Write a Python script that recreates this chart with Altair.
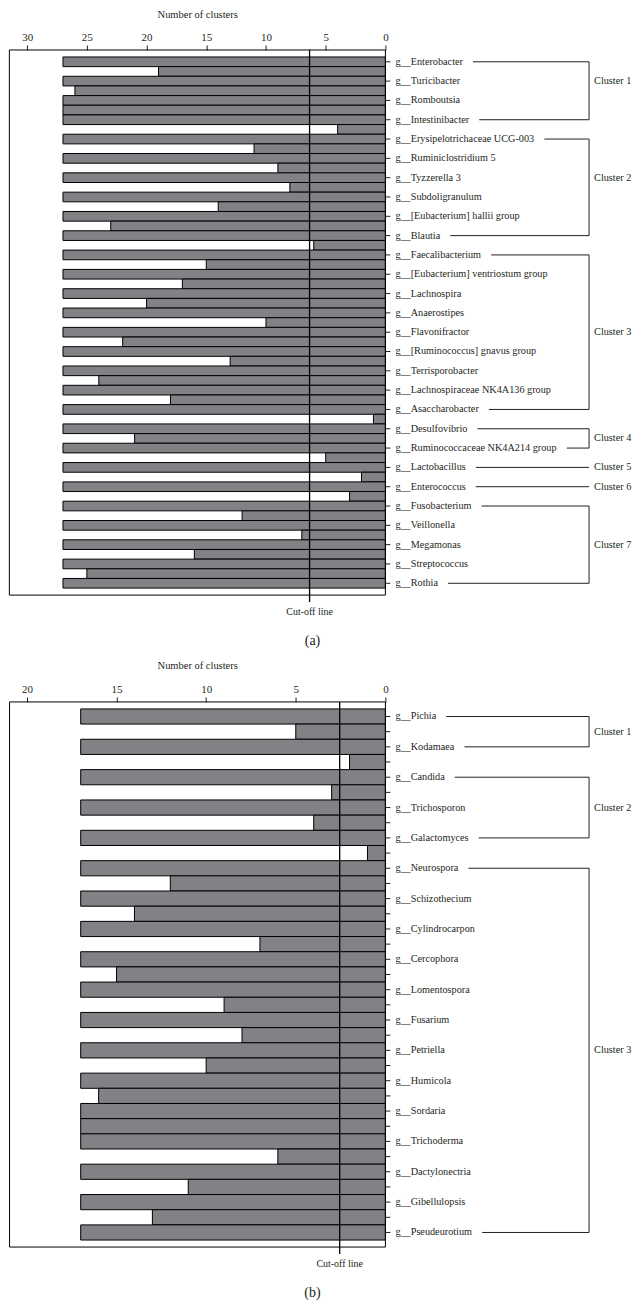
import altair as alt
import pandas as pd

FONT = "Liberation Serif"
INK = "#231f20"
GRAY = "#808285"

# ---------------- data: panel (a) bacteria ----------------
genera_a = [
    "g__Enterobacter", "g__Turicibacter", "g__Romboutsia", "g__Intestinibacter",
    "g__Erysipelotrichaceae UCG-003", "g__Ruminiclostridium 5", "g__Tyzzerella 3",
    "g__Subdoligranulum", "g__[Eubacterium] hallii group", "g__Blautia",
    "g__Faecalibacterium", "g__[Eubacterium] ventriostum group", "g__Lachnospira",
    "g__Anaerostipes", "g__Flavonifractor", "g__[Ruminococcus] gnavus group",
    "g__Terrisporobacter", "g__Lachnospiraceae NK4A136 group", "g__Asaccharobacter",
    "g__Desulfovibrio", "g__Ruminococcaceae NK4A214 group", "g__Lactobacillus",
    "g__Enterococcus", "g__Fusobacterium", "g__Veillonella", "g__Megamonas",
    "g__Streptococcus", "g__Rothia",
]
# number of clusters at which neighbouring genera are joined (separator rows)
merge_a = [19, 26, 27, 4, 11, 9, 8, 14, 23, 6, 15, 17, 20, 10, 22, 13, 24, 18,
           1, 21, 5, 2, 3, 12, 7, 16, 25]
full_a = 27
cut_a = 6.35
ticks_a = [0, 5, 10, 15, 20, 25, 30]
xmax_a = 31.52

# ---------------- data: panel (b) fungi ----------------
genera_b = [
    "g__Pichia", "g__Kodamaea", "g__Candida", "g__Trichosporon", "g__Galactomyces",
    "g__Neurospora", "g__Schizothecium", "g__Cylindrocarpon", "g__Cercophora",
    "g__Lomentospora", "g__Fusarium", "g__Petriella", "g__Humicola", "g__Sordaria",
    "g__Trichoderma", "g__Dactylonectria", "g__Gibellulopsis", "g__Pseudeurotium",
]
merge_b = [5, 2, 3, 4, 1, 12, 14, 7, 15, 9, 8, 10, 16, 17, 6, 11, 13]
full_b = 17
cut_b = 2.55
ticks_b = [0, 5, 10, 15, 20]
xmax_b = 21.0

# ---------------- layout (pixels) ----------------
PLOT_W = 624
ZERO_PX = 377
FRAME_H = 546
PAD = 7
TOTAL_H = 598
LABEL_DX = 10
TICK_LEN = 5
BRACKET_PX = 204
CLABEL_PX = 209
LINE_GAP = 10
FS = 10.25

# approximate Times glyph widths (1/1000 em) used to start bracket lines after labels
CW = dict(zip("abcdefghijklmnopqrstuvwxyz",
              [444, 500, 444, 500, 444, 333, 500, 500, 278, 278, 500, 278, 778,
               500, 500, 500, 500, 333, 389, 278, 500, 500, 722, 500, 500, 444]))
CW.update(dict(zip("ABCDEFGHIJKLMNOPQRSTUVWXYZ",
                   [722, 667, 667, 722, 611, 556, 722, 722, 333, 389, 722, 611, 889,
                    722, 722, 556, 722, 667, 556, 611, 722, 722, 944, 722, 722, 611])))
CW.update({" ": 250, "_": 500, "[": 333, "]": 333, "-": 333})


def text_w(s):
    return sum(CW.get(c, 500) for c in s) * FS / 1000.0


def panel(genera, merges, full, cut, ticks, xmax, tick_all_rows, tag):
    n_rows = 2 * len(genera) - 1
    ppu = ZERO_PX / xmax
    xmin = -(PLOT_W - ZERO_PX) / ppu
    row_px = (FRAME_H - 2 * PAD) / n_rows
    y_top = -PAD / row_px
    y_fbot = n_rows + PAD / row_px
    y_bot = y_top + TOTAL_H / row_px

    def px(p):
        return -p / ppu

    xs = alt.Scale(domain=[xmin, xmax], reverse=True, nice=False, zero=False)
    ys = alt.Scale(domain=[y_top, y_bot], reverse=True, nice=False, zero=False)

    axis = alt.Axis(orient="top", values=ticks, tickSize=5, tickColor=INK, tickWidth=1,
                    labelFont=FONT, labelFontSize=11, labelColor=INK, labelPadding=2,
                    labelOverlap=False, labelFlush=False, domain=False, grid=False,
                    title="Number of clusters", titleFont=FONT, titleFontSize=10.5,
                    titleFontWeight="normal", titleColor=INK, titleX=ZERO_PX / 2,
                    titleY=-36, titleAlign="center", titleBaseline="middle")

    def X(f):
        return alt.X(f, type="quantitative", scale=xs, axis=axis)

    def Y(f):
        return alt.Y(f, type="quantitative", scale=ys, axis=None)

    # bars
    rows = []
    for i, g in enumerate(genera):
        rows.append({"row": 2 * i, "val": full})
        if i < len(merges):
            rows.append({"row": 2 * i + 1, "val": merges[i]})
    bars_df = pd.DataFrame(rows)
    bars_df["row_end"] = bars_df["row"] + 1
    bars_df["zero"] = 0.0

    bars = alt.Chart(bars_df).mark_rect(fill=GRAY, stroke="black", strokeWidth=1).encode(
        x=X("val"), x2="zero", y=Y("row"), y2="row_end")

    frame_df = pd.DataFrame([{"x": xmax - 0.03, "x2": 0.0, "y": y_top, "y2": y_fbot}])
    frame = alt.Chart(frame_df).mark_rect(fill="transparent", stroke="black",
                                          strokeWidth=1).encode(
        x=X("x"), x2="x2", y=Y("y"), y2="y2")

    cut_df = pd.DataFrame([{"x": cut, "y": y_top, "y2": y_fbot + PAD / row_px,
                            "t": "Cut-off line"}])
    cut_rule = alt.Chart(cut_df).mark_rule(color="black", strokeWidth=1.3).encode(
        x=X("x"), y=Y("y"), y2="y2")
    cut_text = alt.Chart(cut_df).mark_text(font=FONT, fontSize=10, color=INK,
                                           baseline="middle").encode(
        x=X("x"), y=alt.value(FRAME_H + 17), text="t")

    # right-hand ticks
    tick_rows = list(range(n_rows)) if tick_all_rows else list(range(0, n_rows, 2))
    ticks_df = pd.DataFrame({"y": [r + 0.5 for r in tick_rows]})
    ticks_df["x"] = 0.0
    ticks_df["x2"] = px(TICK_LEN)
    rticks = alt.Chart(ticks_df).mark_rule(color=INK, strokeWidth=1).encode(
        x=X("x"), x2="x2", y=Y("y"))

    lab_df = pd.DataFrame({"label": genera, "y": [2 * i + 0.5 for i in range(len(genera))]})
    lab_df["x"] = 0.0
    labels = alt.Chart(lab_df).mark_text(font=FONT, fontSize=FS, color=INK, align="left",
                                         baseline="middle", dx=LABEL_DX).encode(
        x=X("x"), y=Y("y"), text="label")

    # clusters from the cut-off
    clusters = [[0]]
    for i in range(1, len(genera)):
        if merges[i - 1] < cut:
            clusters.append([i])
        else:
            clusters[-1].append(i)

    h_rows, v_rows, c_rows = [], [], []
    for k, cl in enumerate(clusters):
        first, last = cl[0], cl[-1]
        ends = [first] if first == last else [first, last]
        for gi in ends:
            start = LABEL_DX + text_w(genera[gi]) + LINE_GAP
            h_rows.append({"x": px(start), "x2": px(BRACKET_PX), "y": 2 * gi + 0.5})
        if first != last:
            v_rows.append({"x": px(BRACKET_PX), "y": 2 * first + 0.5, "y2": 2 * last + 0.5})
        n = len(cl)
        if n == 2:
            pos = (first + last) / 2
        else:
            pos = first + (n - 1) // 2
        c_rows.append({"x": px(CLABEL_PX), "y": 2 * pos + 0.5, "t": f"Cluster {k + 1}"})

    hl = alt.Chart(pd.DataFrame(h_rows)).mark_rule(color=INK, strokeWidth=1).encode(
        x=X("x"), x2="x2", y=Y("y"))
    layers = [bars, frame, cut_rule, rticks, labels, hl]
    if v_rows:
        vl = alt.Chart(pd.DataFrame(v_rows)).mark_rule(color=INK, strokeWidth=1).encode(
            x=X("x"), y=Y("y"), y2="y2")
        layers.append(vl)
    cl_text = alt.Chart(pd.DataFrame(c_rows)).mark_text(
        font=FONT, fontSize=FS, color=INK, align="left", baseline="middle").encode(
        x=X("x"), y=Y("y"), text="t")
    tag_df = pd.DataFrame([{"t": tag}])
    tag_text = alt.Chart(tag_df).mark_text(font=FONT, fontSize=14, color=INK,
                                           baseline="middle").encode(
        x=alt.value(304), y=alt.value(FRAME_H + 46), text="t")
    layers += [cl_text, cut_text, tag_text]
    return alt.layer(*layers).properties(width=PLOT_W, height=TOTAL_H)


pa = panel(genera_a, merge_a, full_a, cut_a, ticks_a, xmax_a, False, "(a)")
pb = panel(genera_b, merge_b, full_b, cut_b, ticks_b, xmax_b, True, "(b)")

chart = alt.vconcat(pa, pb, spacing=13).properties(padding=0).configure_view(stroke=None)
chart.save("out.html", embed_options={"renderer": "svg", "actions": False})
